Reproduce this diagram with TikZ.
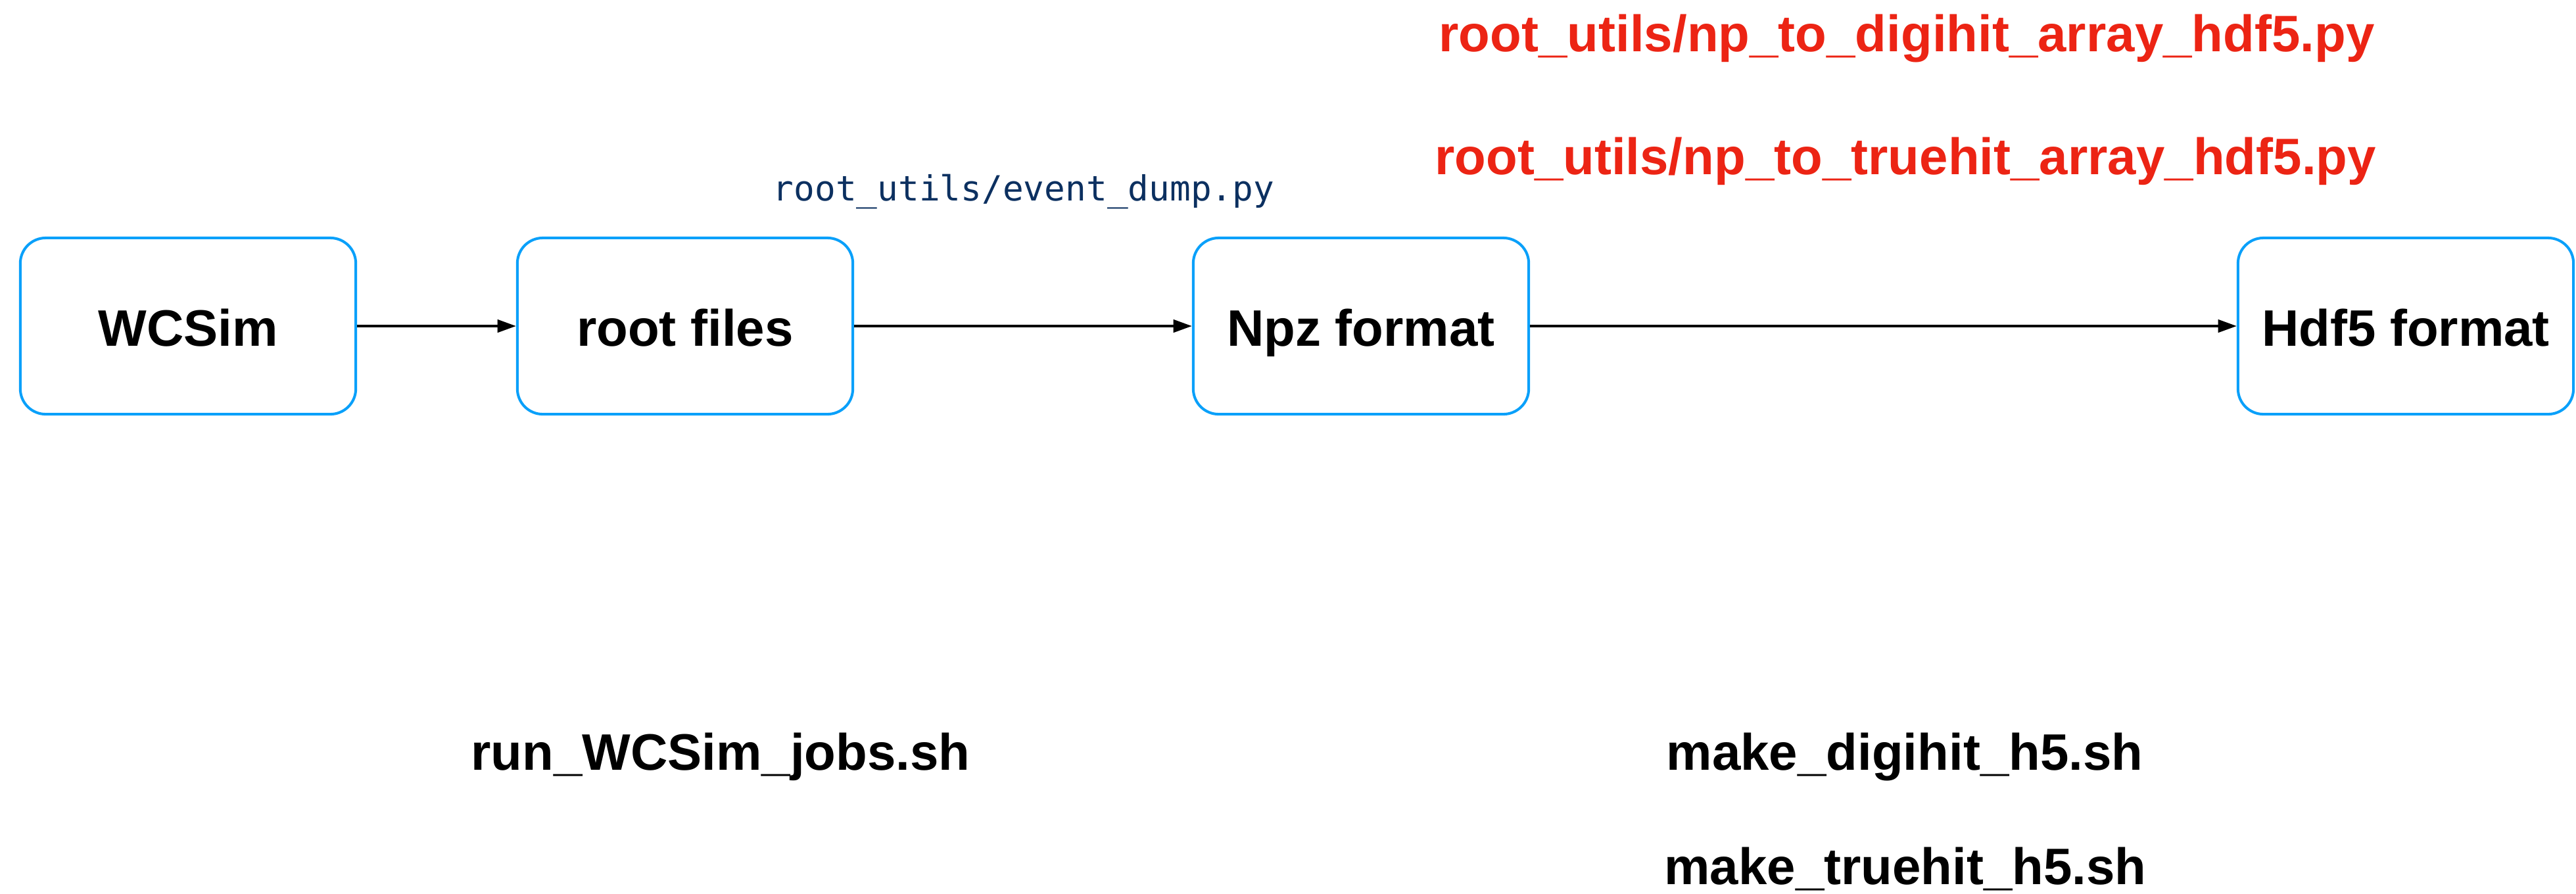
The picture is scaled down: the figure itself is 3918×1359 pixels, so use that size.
\documentclass[tikz,border=0pt]{standalone}
\usepackage{fontspec}
\setmainfont{Liberation Sans}
\setmonofont{DejaVu Sans Mono}
\usetikzlibrary{arrows.meta}
\definecolor{boxblue}{RGB}{10,160,250}
\definecolor{labred}{RGB}{236,36,20}
\definecolor{navy}{RGB}{12,48,96}
\tikzset{
  stage/.style={draw=boxblue, line width=1.15pt, rounded corners=11pt, fill=white,
    minimum width=5.1cm, minimum height=2.68cm, inner sep=0pt,
    font=\fontsize{22.2}{26}\selectfont\bfseries, text height=17.6pt, text depth=0pt},
  flow/.style={line width=1pt, -{Triangle[length=8pt,width=5.5pt]}},
  bigtxt/.style={anchor=base, inner sep=0pt, font=\fontsize{22.2}{26}\selectfont\bfseries},
  redtxt/.style={bigtxt, text=labred},
  monotxt/.style={anchor=base, inner sep=0pt, text=navy, font=\fontsize{15}{18}\selectfont\ttfamily}
}
\begin{document}
\begin{tikzpicture}[x=0.01cm,y=-0.01cm]
\useasboundingbox (0,0) rectangle (3918,1359);
\node[stage] (wcsim) at (286,496) {WCSim};
\node[stage] (root) at (1042,496) {root files};
\node[stage] (npz) at (2070,496) {Npz format};
\node[stage] (hdf) at (3659,496) {Hdf5 format};
\draw[flow] (wcsim) -- (root);
\draw[flow] (root) -- (npz);
\draw[flow] (npz) -- (hdf);
\node[monotxt] (evd) at (1557,305) {root\_utils/event\_dump.py};
\node[redtxt] (digi) at (2900,78) {root\_utils/np\_to\_digihit\_array\_hdf5.py};
\node[redtxt] (true) at (2898,265) {root\_utils/np\_to\_truehit\_array\_hdf5.py};
\node[bigtxt] (runjobs) at (1096,1171) {run\_WCSim\_jobs.sh};
\node[bigtxt] (mkdigi) at (2897,1171) {make\_digihit\_h5.sh};
\node[bigtxt] (mktrue) at (2898,1345) {make\_truehit\_h5.sh};
\end{tikzpicture}
\end{document}
